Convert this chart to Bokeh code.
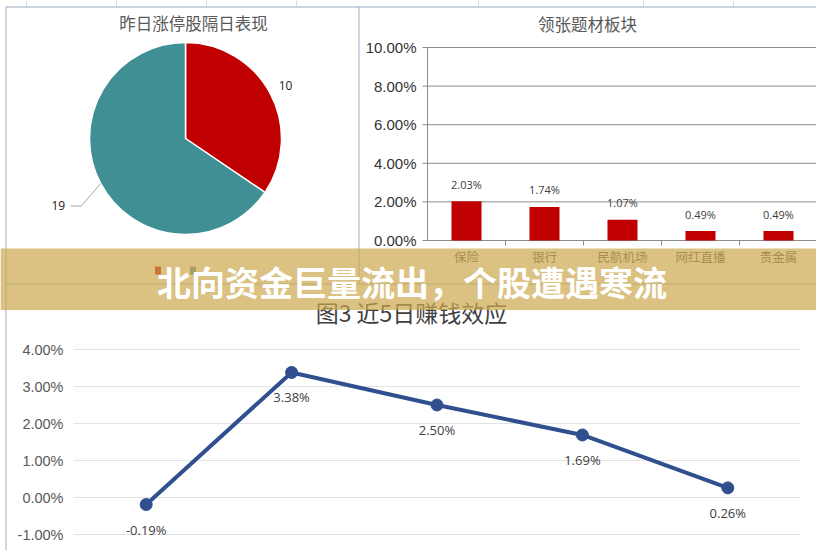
import numpy as np
from bokeh.plotting import figure
from bokeh.models import Range1d
from bokeh.core.properties import value
from bokeh.embed import file_html
from bokeh.resources import INLINE

# ---------------- data ----------------
pie_title = "昨日涨停股隔日表现"
pie_values = [10, 19]
pie_colors = ["#c00000", "#3f8f94"]

bar_title = "领张题材板块"
bar_cats = ["保险", "银行", "民航机场", "网红直播", "贵金属"]
bar_vals = [0.0203, 0.0174, 0.0107, 0.0049, 0.0049]
bar_ticks = [0.0, 0.02, 0.04, 0.06, 0.08, 0.10]

line_title = "图3 近5日赚钱效应"
line_days = ["D1", "D2", "D3", "D4", "D5"]
line_vals = [-0.0019, 0.0338, 0.0250, 0.0169, 0.0026]
line_ticks = [-0.01, 0.0, 0.01, 0.02, 0.03, 0.04]

banner_text = "北向资金巨量流出，个股遭遇寒流"

CJK = value("Noto Sans CJK SC")
NUM = value("Liberation Sans")
LBL = value("Open Sans")

def pct(v):
    return f"{v * 100:.2f}%"

W, H = 816, 550

# ---------------- canvas ----------------
p = figure(width=W, height=H, x_range=Range1d(0, W), y_range=Range1d(H, 0),
           output_backend="svg", toolbar_location=None, min_border=0,
           x_axis_location=None, y_axis_location=None)
p.grid.visible = False
p.outline_line_color = None
p.background_fill_color = "white"
p.border_fill_color = "white"

# spreadsheet cells peeking out at the top
sheet_cols = [26, 116, 206, 296, 478, 643, 733]
p.segment(x0=sheet_cols, x1=sheet_cols, y0=0, y1=6, line_color="#d9d9d9", line_width=1)

# panel borders
BC = "#9aabbf"
p.segment(x0=[5.5, 5.5, 358.5, 358.5, 5.5],
          y0=[6.5, 6.5, 6.5, 6.5, 283.5],
          x1=[358.5, 5.5, 819, 358.5, 819],
          y1=[6.5, 552, 6.5, 283.5, 283.5],
          line_color=BC, line_width=1)

# ---------------- pie ----------------
pie = p.subplot(x_source=Range1d(-1, 1), y_source=Range1d(-1, 1),
                x_target=Range1d(89, 281), y_target=Range1d(234, 42))
vals = np.array(pie_values, dtype=float)
frac = vals / vals.sum()
cum = np.concatenate([[0], np.cumsum(frac)])
ends = np.pi / 2 - cum[:-1] * 2 * np.pi
starts = np.pi / 2 - cum[1:] * 2 * np.pi
mids = (starts + ends) / 2
pie.wedge(x=0, y=0, radius=1, start_angle=starts, end_angle=ends,
          fill_color=pie_colors, line_color="white", line_width=1.5)
lab_r = np.array([1.18, 1.5])
lx = np.cos(mids) * lab_r
ly = np.sin(mids) * lab_r
pie.text(x=lx, y=ly, text=[str(v) for v in pie_values], text_align="center",
         text_baseline="middle", text_font=LBL, text_font_size="12px", text_color="#1a1a1a")
ex, ey = np.cos(mids[1]), np.sin(mids[1])
pie.line(x=[ex, lx[1] + 0.24, lx[1] + 0.13], y=[ey, ly[1], ly[1]],
         line_color="#a6a6a6", line_width=1)
p.text(x=[193], y=[22], text=[pie_title], text_align="center", text_baseline="middle",
       text_font=CJK, text_font_size="16.5px", text_color="#595959")
p.rect(x=[157.5, 192.5], y=[270, 270], width=6, height=8, fill_color=pie_colors, line_color=None)

# ---------------- bar ----------------
bar = p.subplot(x_source=Range1d(-0.5, 4.5), y_source=Range1d(0, 0.10),
                x_target=Range1d(427, 817), y_target=Range1d(240, 47))
idx = list(range(len(bar_cats)))
GC = "#8c8c8c"
bar.segment(x0=-0.5, x1=4.5, y0=bar_ticks, y1=bar_ticks, line_color=GC, line_width=1)
bar.segment(x0=-0.5, x1=-0.5, y0=bar_ticks[0], y1=bar_ticks[-1], line_color=GC, line_width=1)
bar.ray(x=[-0.5] * len(bar_ticks), y=bar_ticks, length=5, length_units="screen",
        angle=np.pi, line_color=GC, line_width=1)
bounds = [i + 0.5 for i in idx]
bar.ray(x=bounds, y=[0] * len(bounds), length=5, length_units="screen",
        angle=-np.pi / 2, line_color=GC, line_width=1)
bar.vbar(x=idx, top=bar_vals, bottom=0, width=0.385, fill_color="#c00000", line_color=None)
bar.text(x=idx, y=bar_vals, text=[pct(v) for v in bar_vals], y_offset=-17,
         text_align="center", text_baseline="middle", text_font=LBL,
         text_font_size="11px", text_color="#404040")
bar.text(x=[-0.5] * len(bar_ticks), y=bar_ticks, text=[pct(v) for v in bar_ticks], x_offset=-11,
         text_align="right", text_baseline="middle", text_font=NUM,
         text_font_size="15px", text_color="#333333")
bar.text(x=idx, y=[0] * len(idx), text=bar_cats, y_offset=16, text_align="center",
         text_baseline="middle", text_font=CJK, text_font_size="12.5px", text_color="#4d4d4d")
p.text(x=[587], y=[23], text=[bar_title], text_align="center", text_baseline="middle",
       text_font=CJK, text_font_size="16.5px", text_color="#595959")

# ---------------- line ----------------
ln = p.subplot(x_source=Range1d(-0.5, 4.5), y_source=Range1d(-0.01, 0.04),
               x_target=Range1d(73, 800), y_target=Range1d(534, 349))
lidx = list(range(len(line_days)))
ln.segment(x0=-0.5, x1=4.5, y0=line_ticks, y1=line_ticks, line_color="#e3e3e3", line_width=1)
ln.text(x=[-0.5] * len(line_ticks), y=line_ticks, text=[pct(v) for v in line_ticks], x_offset=-10,
        text_align="right", text_baseline="middle", text_font=NUM,
        text_font_size="14.5px", text_color="#595959")
ln.line(x=lidx, y=line_vals, line_color="#2f4f8e", line_width=4)
ln.scatter(x=lidx, y=line_vals, marker="circle", size=12, fill_color="#2f4f8e", line_color="#2f4f8e")
ln.text(x=lidx, y=line_vals, text=[pct(v) for v in line_vals], y_offset=25,
        text_align="center", text_baseline="middle", text_font=LBL,
        text_font_size="13px", text_color="#404040")
p.text(x=[411], y=[311], text=[line_title], text_align="center", text_baseline="middle",
       text_font=CJK, text_font_size="23px", text_color="#404040")

# ---------------- banner ----------------
p.quad(left=0, right=W, top=248, bottom=309.5, fill_color="#cca84f", fill_alpha=0.7, line_color=None)
p.text(x=[411.5], y=[281], text=[banner_text], text_align="center", text_baseline="middle",
       text_font=CJK, text_font_style="bold", text_font_size="34px", text_color="white")

open("out.html", "w").write(file_html(p, INLINE))
